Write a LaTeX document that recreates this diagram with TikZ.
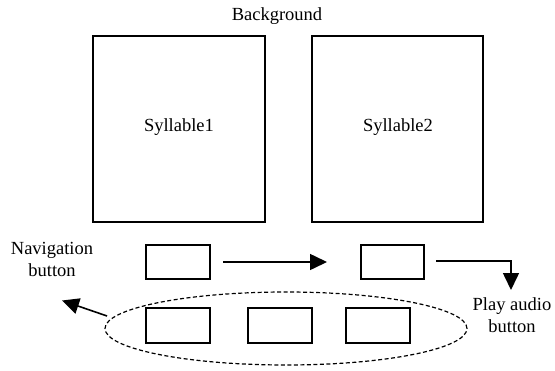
\documentclass[tikz,border=0pt]{standalone}
\usepackage{fontspec}
\setmainfont{Liberation Serif}
\usetikzlibrary{arrows.meta,shapes.geometric}
\begin{document}
\begin{tikzpicture}[x=1pt,y=-1pt,
  box/.style={draw,line width=1.8pt,inner sep=0pt},
  lbl/.style={font=\fontsize{18.5}{22}\selectfont,align=center,inner sep=0pt},
  arr/.style={line width=1.6pt,-{Triangle[length=17pt,width=16pt]}},
  grp/.style={draw,line width=1.2pt,dash pattern=on 4pt off 2.5pt}]
\useasboundingbox (0,0) rectangle (555,370);
\node[lbl] (bg) at (277,16) {Background};
\draw[box] (93,36) rectangle (265,222);
\draw[box] (312,36) rectangle (483,222);
\node[lbl] (s1) at (179,127) {Syllable1};
\node[lbl] (s2) at (398,127) {Syllable2};
% small buttons
\node[box,minimum width=64pt,minimum height=34pt] (ba) at (178,262) {};
\node[box,minimum width=63pt,minimum height=34pt] (bb) at (392.5,262) {};
\node[box,minimum width=64pt,minimum height=35pt] (c1) at (178,325.5) {};
\node[box,minimum width=64pt,minimum height=35pt] (c2) at (280,325.5) {};
\node[box,minimum width=64pt,minimum height=35pt] (c3) at (378,325.5) {};
\node[grp,ellipse,minimum width=362pt,minimum height=73pt,inner sep=0pt] (grp) at (286,328.5) {};
% labels
\node[lbl] (nav) at (52,259) {Navigation\\button};
\node[lbl] (play) at (512,315) {Play audio\\button};
% arrows
\coordinate (a1s) at (223,262);
\coordinate (a1e) at (327,262);
\draw[arr] (a1s) -- (a1e);
\coordinate (a2s) at (436,261);
\coordinate (a2c) at (511,261);
\coordinate (a2e) at (511,290);
\draw[arr] (a2s) -- (a2c) -- (a2e);
\coordinate (n1s) at (107,316);
\coordinate (n1e) at (62,300.5);
\draw[arr] (n1s) -- (n1e);
\end{tikzpicture}
\end{document}
